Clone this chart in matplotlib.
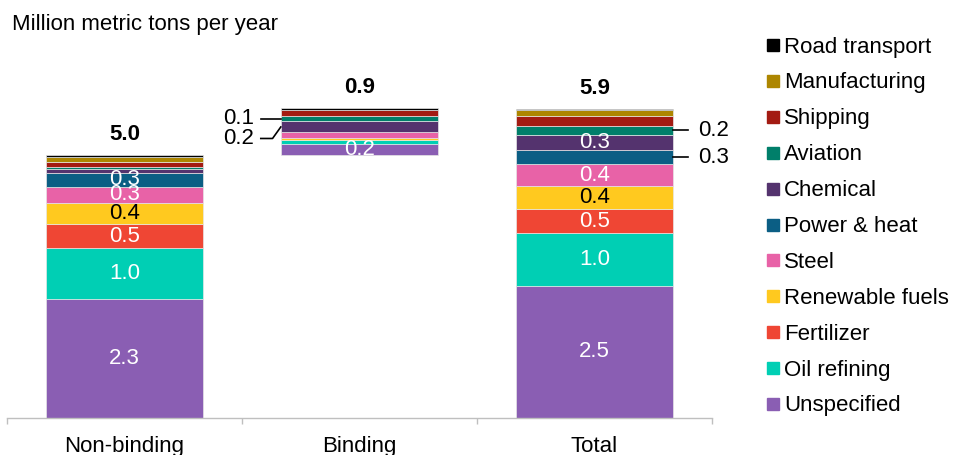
import matplotlib
matplotlib.use("Agg")
import matplotlib.pyplot as plt
from matplotlib.patches import Rectangle

plt.rcParams["font.family"] = ["Liberation Sans", "DejaVu Sans"]

# ---- data -------------------------------------------------------------
categories = ["Non-binding", "Binding", "Total"]
sectors = ["Unspecified", "Oil refining", "Fertilizer", "Renewable fuels", "Steel",
           "Power & heat", "Chemical", "Aviation", "Shipping", "Manufacturing",
           "Road transport"]
colors = ["#8A5EB3", "#00CFB4", "#EF4634", "#FFC91F", "#E862A7",
          "#0B5E84", "#54336E", "#007F6A", "#A31B12", "#AD8600", "#000000"]

non_binding = [2.26, 0.975, 0.46, 0.40, 0.32, 0.26, 0.07, 0.04, 0.10, 0.095, 0.045]
binding = [0.20, 0.075, 0.01, 0.03, 0.11, 0.0, 0.21, 0.11, 0.11, 0.0, 0.04]
total = [2.51, 1.01, 0.46, 0.44, 0.43, 0.26, 0.29, 0.18, 0.18, 0.115, 0.025]

title = "Million metric tons per year"

# ---- layout -----------------------------------------------------------
W, H = 954, 455
fig = plt.figure(figsize=(W / 100, H / 100), dpi=100)
base_px, top_px = 417.5, 51.4
left_px, right_px = 7, 712
ax = fig.add_axes([left_px / W, 1 - base_px / H,
                   (right_px - left_px) / W, (base_px - top_px) / H])
ax.set_xlim(-0.5, 2.5)
ax.set_ylim(0, 7)

FS = 16
bar_w = 0.67
series = [non_binding, binding, total]
bottoms0 = [0.0, sum(non_binding), 0.0]   # binding floats on top of non-binding

# which segments carry a value label inside the bar
inside = {0: [0, 1, 2, 3, 4, 5], 1: [0], 2: [0, 1, 2, 3, 4, 6]}

seg_mid = {}
for ci, vals in enumerate(series):
    b = bottoms0[ci]
    for si, v in enumerate(vals):
        if v > 0:
            ax.bar(ci, v, bottom=b, width=bar_w, color=colors[si],
                   edgecolor="#e6e6e6", linewidth=0.5, zorder=2)
        seg_mid[(ci, si)] = b + v / 2
        if si in inside[ci]:
            tc = "black" if si == 3 else "white"
            ax.text(ci, b + v / 2, f"{v:.1f}", ha="center", va="center",
                    fontsize=FS, color=tc, zorder=3)
        b += v
    ax.annotate(f"{sum(vals):.1f}", xy=(ci, b), xytext=(0, 7),
                textcoords="offset points", ha="center", va="bottom",
                fontsize=FS, fontweight="bold")

# callouts on the binding bar (left side)
bl = 1 - bar_w / 2
ya = seg_mid[(1, 7)]
ax.plot([bl - 0.085, bl], [ya, ya], color="black", lw=1.2, zorder=3, clip_on=False)
ax.text(bl - 0.115, ya, f"{binding[7]:.1f}", ha="right", va="center", fontsize=FS)
yc = seg_mid[(1, 6)]
yl = yc - 0.22
ax.plot([bl - 0.085, bl - 0.035, bl], [yl, yl, yc], color="black", lw=1.2,
        zorder=3, clip_on=False)
ax.text(bl - 0.115, yl, f"{binding[6]:.1f}", ha="right", va="center", fontsize=FS)

# callouts on the total bar (right side)
br = 2 + bar_w / 2
for si in (7, 5):
    y = seg_mid[(2, si)]
    ax.plot([br, br + 0.064], [y, y], color="black", lw=1.2, zorder=3, clip_on=False)
    ax.text(br + 0.106, y, f"{total[si]:.1f}", ha="left", va="center", fontsize=FS)

# axes styling
for s in ("top", "right", "left"):
    ax.spines[s].set_visible(False)
ax.spines["bottom"].set_color("#bfbfbf")
ax.spines["bottom"].set_linewidth(1.0)
ax.set_yticks([])
ax.set_xticks([-0.5, 0.5, 1.5, 2.5])
ax.set_xticklabels([])
ax.set_xticks([0, 1, 2], minor=True)
ax.set_xticklabels(categories, minor=True, fontsize=FS)
ax.tick_params(axis="x", which="major", direction="out", length=4,
               color="#bfbfbf", width=1.0)
ax.tick_params(axis="x", which="minor", length=0, pad=13)

# title
fig.text(12 / W, 1 - 30 / H, title, ha="left", va="baseline", fontsize=FS)

# legend (top entry = top of stack)
for i, si in enumerate(reversed(range(len(sectors)))):
    cy = 45 + i * 35.9
    fig.add_artist(Rectangle((767 / W, 1 - (cy + 6) / H), 12 / W, 12 / H,
                             transform=fig.transFigure, color=colors[si]))
    fig.text(784 / W, 1 - (cy + 7.5) / H, sectors[si], ha="left", va="baseline",
             fontsize=FS)

fig.savefig("out.png", dpi=100)
